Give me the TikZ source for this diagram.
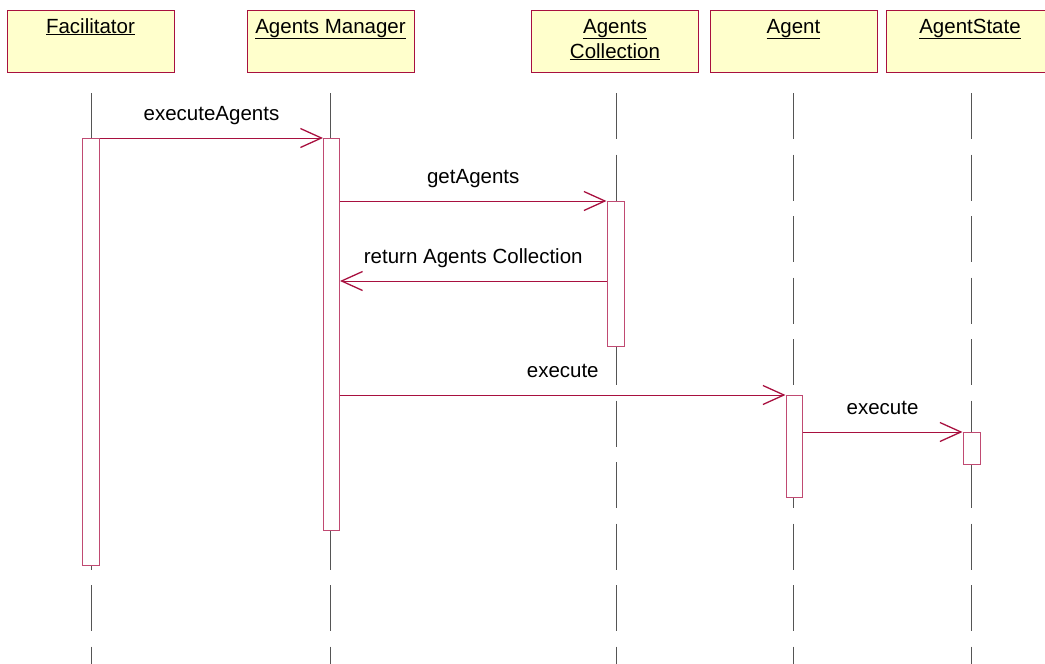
\documentclass[tikz,border=0pt]{standalone}
\usepackage{fontspec}
\setmainfont{Liberation Sans}
\usetikzlibrary{arrows.meta}
\definecolor{umlred}{HTML}{A8103F}
\definecolor{umlpink}{HTML}{C04A72}
\definecolor{umlfill}{HTML}{FFFFCC}
\definecolor{lifegray}{HTML}{555555}
\tikzset{
  hdr/.style={draw=umlred, fill=umlfill, line width=1pt, minimum width=167pt,
    minimum height=62pt, inner sep=0pt, anchor=north},
  hdrtext/.style={font=\fontsize{20.5}{25}\selectfont, align=center, inner sep=0pt, anchor=base},
  lifeline/.style={draw=lifegray, line width=1pt, dash pattern=on 46pt off 15.5pt},
  actbox/.style={draw=umlpink, fill=white, line width=1pt, inner sep=0pt, anchor=north},
  msg/.style={draw=umlred, line width=1pt, -{Straight Barb[length=21pt,width=19pt,line width=1.3pt]}},
  msglbl/.style={font=\fontsize{20.5}{25}\selectfont, inner sep=0pt, anchor=base, yshift=18pt}
}
\begin{document}
\begin{tikzpicture}[x=1pt,y=-1pt]
\useasboundingbox (0,0) rectangle (1045,664);
\clip (0,0) rectangle (1045,664);

% object headers
\node[hdr] (facBox) at (90.5,10) {};
\node[hdr] (mgrBox) at (330.5,10) {};
\node[hdr] (colBox) at (615,10) {};
\node[hdr] (agtBox) at (793.5,10) {};
\node[hdr] (stBox) at (970,10) {};
\node[hdrtext] (facTxt) at (90.5,33) {\underline{Facilitator}};
\node[hdrtext] (mgrTxt) at (330.5,33) {\underline{Agents Manager}};
% the base anchor of a two-line node sits on its last line
\node[hdrtext] (colTxt) at (615,58) {\underline{Agents}\\\underline{Collection}};
\node[hdrtext] (agtTxt) at (793.5,33) {\underline{Agent}};
\node[hdrtext] (stTxt) at (970,33) {\underline{AgentState}};

% lifelines
\coordinate (facTop) at (91,93);  \coordinate (facEnd) at (91,664);
\coordinate (mgrTop) at (330,93); \coordinate (mgrEnd) at (330,664);
\coordinate (colTop) at (616,93); \coordinate (colEnd) at (616,664);
\coordinate (agtTop) at (793,93); \coordinate (agtEnd) at (793,664);
\coordinate (stTop) at (971,93);  \coordinate (stEnd) at (971,664);
\foreach \l in {fac,mgr,col,agt,st}
  \draw[lifeline] (\l Top) -- (\l End);

% activation bars
\node[actbox, minimum width=17pt, minimum height=427pt] (facAct) at (91,138) {};
\node[actbox, minimum width=16pt, minimum height=392pt] (mgrAct) at (331.5,138) {};
\node[actbox, minimum width=17pt, minimum height=145pt] (colAct) at (615.5,201) {};
\node[actbox, minimum width=16pt, minimum height=102pt] (agtAct) at (794,395) {};
\node[actbox, minimum width=17pt, minimum height=32pt] (stAct) at (971.5,432) {};

% messages
\draw[msg] (facAct.north east) -- (mgrAct.north west)
  node[msglbl, midway] {executeAgents};
\draw[msg] (mgrAct.east |- colAct.north) -- (colAct.north west)
  node[msglbl, midway] {getAgents};
\draw[msg] (colAct.west |- 0,281) -- (mgrAct.east |- 0,281)
  node[msglbl, midway] {return Agents Collection};
\draw[msg] (mgrAct.east |- agtAct.north) -- (agtAct.north west)
  node[msglbl, midway] {execute};
\draw[msg] (agtAct.east |- stAct.north) -- (stAct.north west)
  node[msglbl, midway] {execute};
\end{tikzpicture}
\end{document}
